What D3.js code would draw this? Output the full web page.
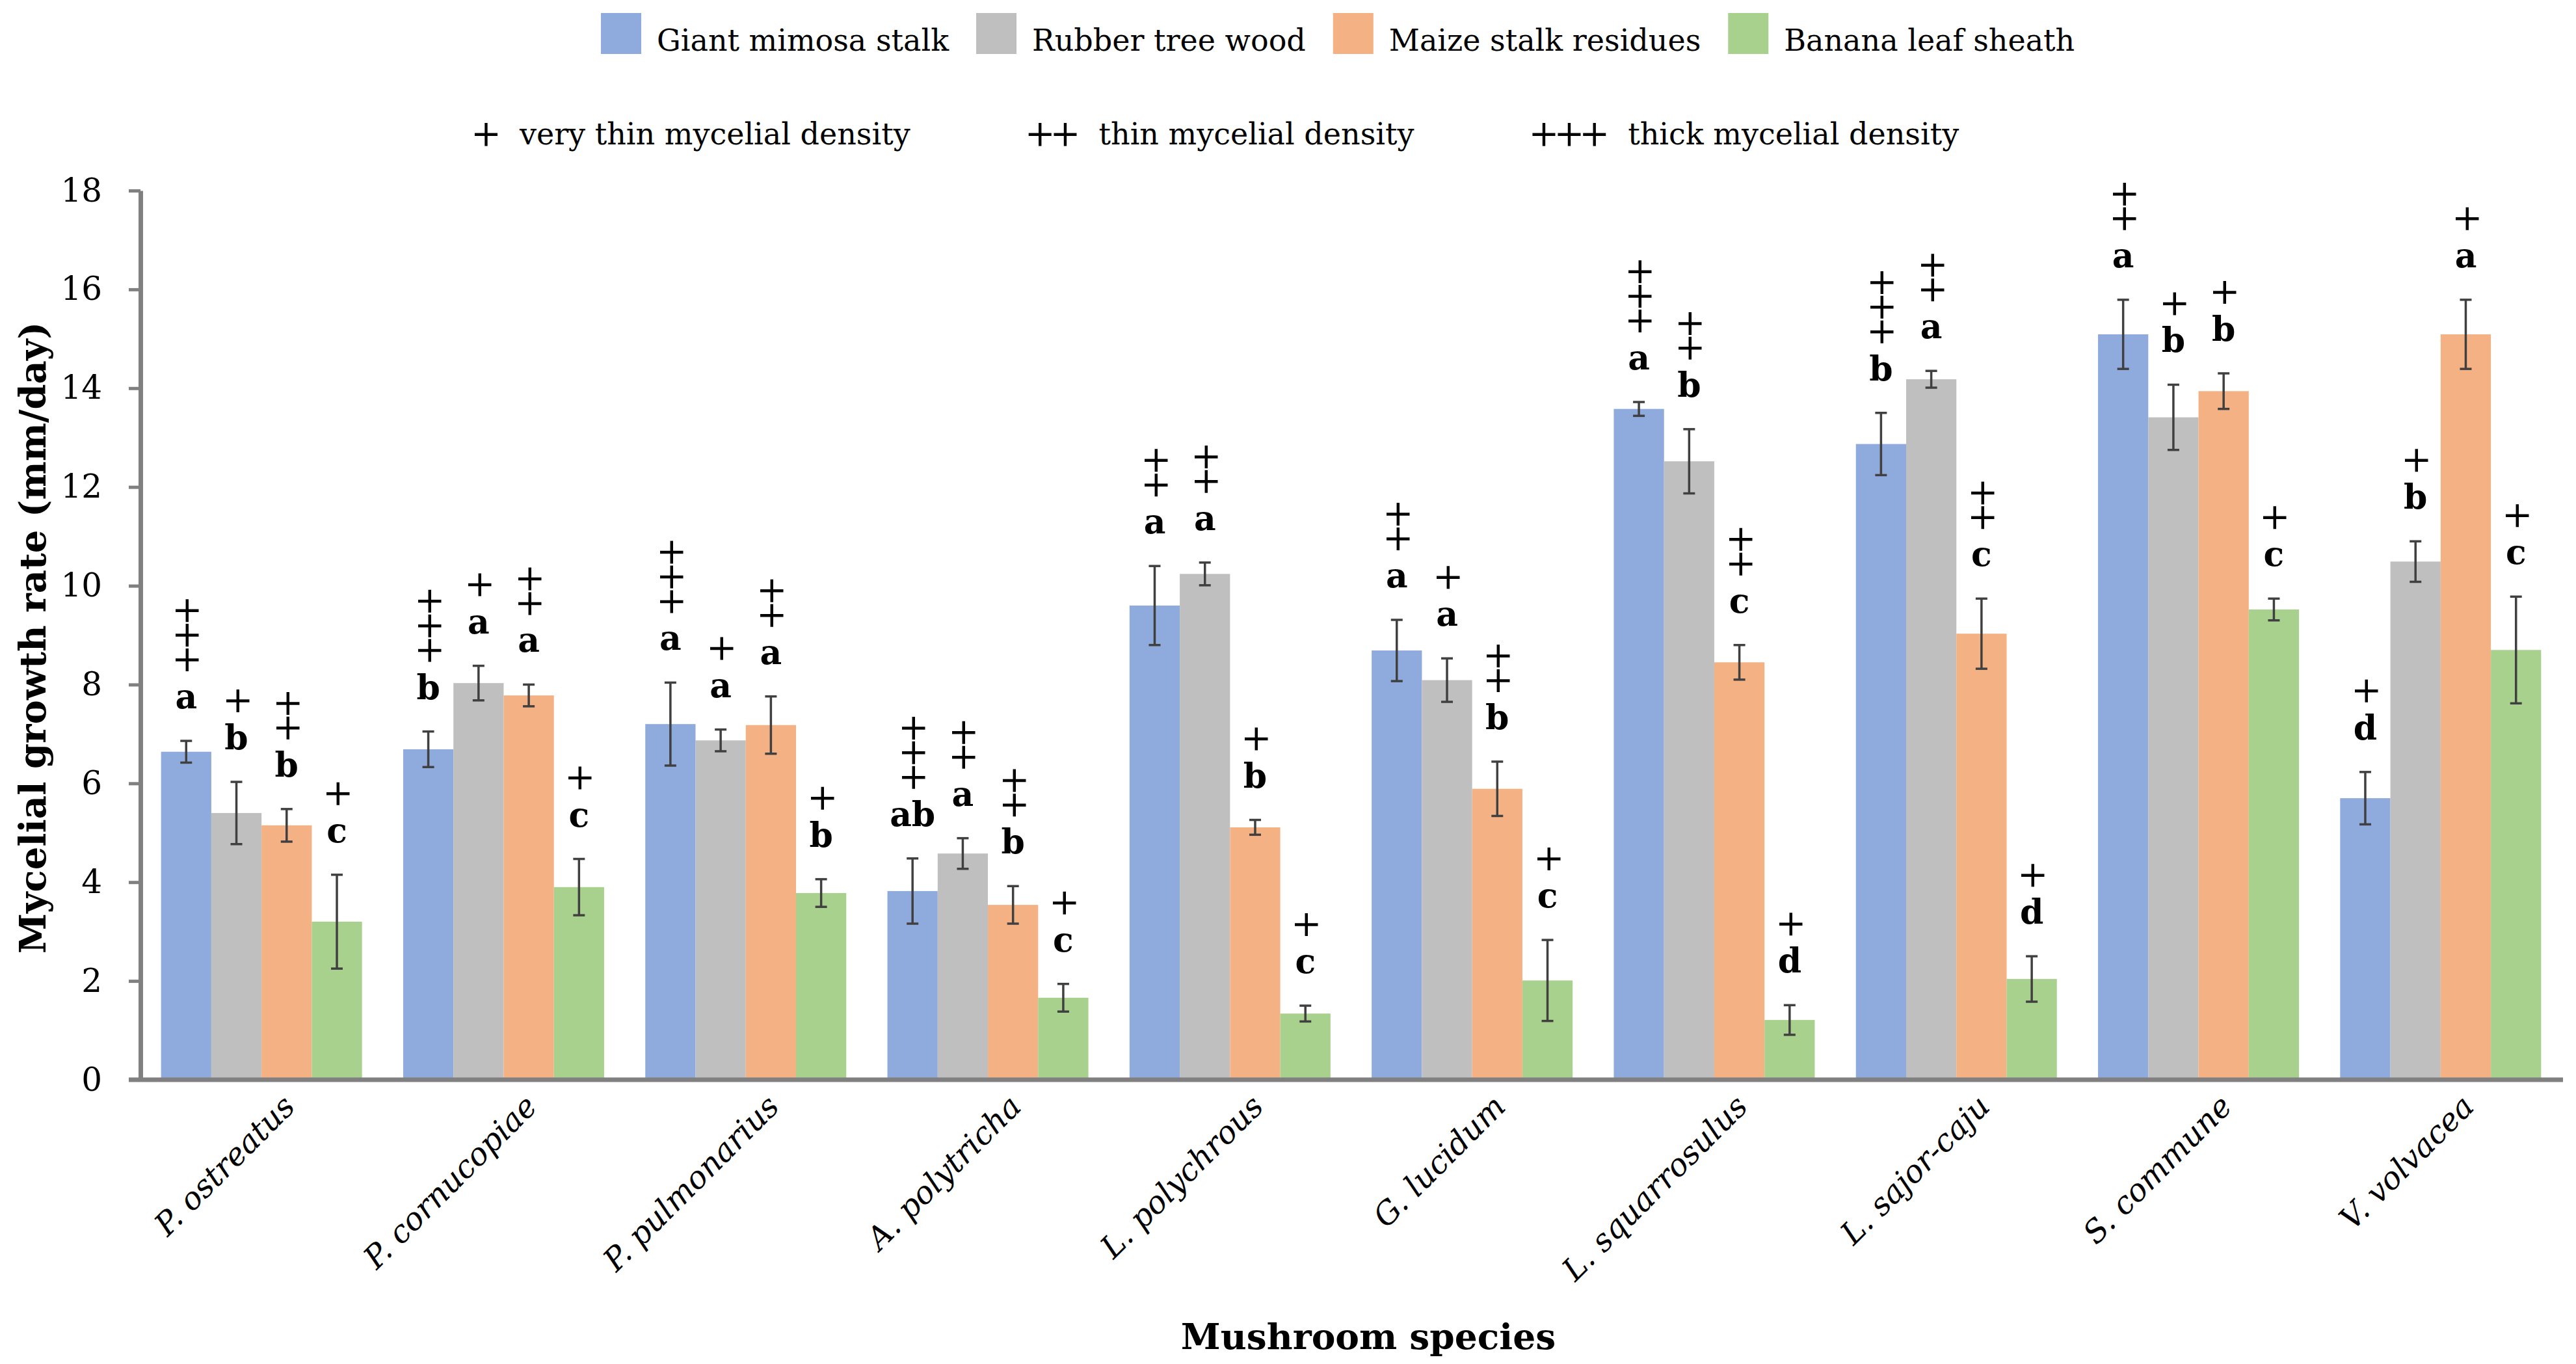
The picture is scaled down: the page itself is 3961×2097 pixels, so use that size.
<!DOCTYPE html>
<html>
<head>
<meta charset="utf-8">
<script src="https://cdn.jsdelivr.net/npm/d3@7"></script>
<style>
  body { margin: 0; background: #ffffff; }
  text { font-family: "DejaVu Serif", serif; fill: #000; }
</style>
</head>
<body>
<div id="chart"></div>
<script>
// mushroom species (x categories)
var species = ["P. ostreatus", "P. cornucopiae", "P. pulmonarius", "A. polytricha", "L. polychrous",
               "G. lucidum", "L. squarrosulus", "L. sajor-caju", "S. commune", "V. volvacea"];
var substrates = ["Giant mimosa stalk", "Rubber tree wood", "Maize stalk residues", "Banana leaf sheath"];

// growth rate (mm/day) and error
var giantMimosa    = [6.64, 6.69, 7.20, 3.82, 9.60, 8.69, 13.58, 12.87, 15.09, 5.70];
var giantMimosaErr = [0.22, 0.36, 0.84, 0.66, 0.80, 0.62, 0.14, 0.63, 0.70, 0.53];
var rubberTree     = [5.40, 8.03, 6.87, 4.58, 10.24, 8.09, 12.52, 14.18, 13.41, 10.49];
var rubberTreeErr  = [0.63, 0.35, 0.22, 0.31, 0.23, 0.44, 0.65, 0.17, 0.66, 0.41];
var maizeStalk     = [5.15, 7.78, 7.18, 3.54, 5.11, 5.89, 8.45, 9.03, 13.94, 15.09];
var maizeStalkErr  = [0.33, 0.22, 0.58, 0.38, 0.15, 0.55, 0.35, 0.71, 0.36, 0.70];
var bananaLeaf     = [3.20, 3.90, 3.78, 1.66, 1.34, 2.01, 1.21, 2.04, 9.52, 8.70];
var bananaLeafErr  = [0.95, 0.57, 0.28, 0.28, 0.16, 0.82, 0.30, 0.46, 0.22, 1.08];

// significance letters
var giantMimosaLetters = ["a", "b", "a", "ab", "a", "a", "a", "b", "a", "d"];
var rubberTreeLetters  = ["b", "a", "a", "a", "a", "a", "b", "a", "b", "b"];
var maizeStalkLetters  = ["b", "a", "a", "b", "b", "b", "c", "c", "b", "a"];
var bananaLeafLetters  = ["c", "c", "b", "c", "c", "c", "d", "d", "c", "c"];

// mycelial density (number of +)
var giantMimosaPlus = [3, 3, 3, 3, 2, 2, 3, 3, 2, 1];
var rubberTreePlus  = [1, 1, 1, 2, 2, 1, 2, 2, 1, 1];
var maizeStalkPlus  = [2, 2, 2, 2, 1, 2, 2, 2, 1, 1];
var bananaLeafPlus  = [1, 1, 1, 1, 1, 1, 1, 1, 1, 1];

var yTicks = [0, 2, 4, 6, 8, 10, 12, 14, 16, 18];
var densityMarks = ["+", "++", "+++"];
var densityLabels = ["very thin mycelial density", "thin mycelial density", "thick mycelial density"];

var colors = ["#8faadc", "#bfbfbf", "#f4b183", "#a9d18e"];

var values = [giantMimosa, rubberTree, maizeStalk, bananaLeaf];
var errors = [giantMimosaErr, rubberTreeErr, maizeStalkErr, bananaLeafErr];
var letters = [giantMimosaLetters, rubberTreeLetters, maizeStalkLetters, bananaLeafLetters];
var pluses = [giantMimosaPlus, rubberTreePlus, maizeStalkPlus, bananaLeafPlus];

var data = [];
species.forEach(function (sp, i) {
    substrates.forEach(function (sub, j) {
        data.push({species: sp, substrate: sub, value: values[j][i], err: errors[j][i],
                   letter: letters[j][i], plus: pluses[j][i], color: colors[j]});
    });
});

var width = 3961, height = 2097;
var plotLeft = 216, plotRight = 3939, plotTop = 293, plotBottom = 1660;

var svg = d3.select("#chart").append("svg")
    .attr("width", width)
    .attr("height", height)
    .style("background", "#fff");

var x0 = d3.scaleBand()
    .domain(species)
    .range([plotLeft, plotRight])
    .paddingInner(0.17)
    .paddingOuter(0.085);

var x1 = d3.scaleBand()
    .domain(substrates)
    .range([0, x0.bandwidth()]);

var y = d3.scaleLinear()
    .domain([0, 18])
    .range([plotBottom, plotTop]);

function barCenter(d) {
    return x0(d.species) + x1(d.substrate) + x1.bandwidth() / 2;
}

// bars
svg.append("g").selectAll("rect")
    .data(data)
    .enter()
    .append("rect")
    .attr("x", function (d) { return x0(d.species) + x1(d.substrate); })
    .attr("y", function (d) { return y(d.value); })
    .attr("width", x1.bandwidth())
    .attr("height", function (d) { return plotBottom - y(d.value); })
    .style("fill", function (d) { return d.color; });

// error bars
var eb = svg.append("g").selectAll("g")
    .data(data)
    .enter()
    .append("g")
    .attr("transform", function (d) { return "translate(" + barCenter(d) + ",0)"; })
    .style("stroke", "#404040")
    .style("stroke-width", 3.5);

eb.append("line")
    .attr("y1", function (d) { return y(d.value - d.err); })
    .attr("y2", function (d) { return y(d.value + d.err); });
eb.append("line")
    .attr("x1", -9).attr("x2", 9)
    .attr("y1", function (d) { return y(d.value + d.err); })
    .attr("y2", function (d) { return y(d.value + d.err); });
eb.append("line")
    .attr("x1", -9).attr("x2", 9)
    .attr("y1", function (d) { return y(d.value - d.err); })
    .attr("y2", function (d) { return y(d.value - d.err); });

// letters and density marks above each bar
var ann = svg.append("g").selectAll("g")
    .data(data)
    .enter()
    .append("g")
    .attr("transform", function (d) {
        return "translate(" + barCenter(d) + "," + (y(d.value + d.err) - 50) + ")";
    });

ann.append("text")
    .attr("text-anchor", "middle")
    .style("font-size", "52px")
    .style("font-weight", "bold")
    .text(function (d) { return d.letter; });

// the "+" marks are stacked vertically: one string turned upright
ann.append("text")
    .attr("transform", "translate(0,-74) rotate(-90)")
    .attr("x", -23)
    .attr("dy", "0.34em")
    .style("font-size", "56px")
    .style("letter-spacing", "-9px")
    .text(function (d) { return d3.range(d.plus).map(function () { return "+"; }).join(""); });

// y axis
var yAxis = svg.append("g")
    .attr("transform", "translate(" + plotLeft + ",0)")
    .call(d3.axisLeft(y).tickValues(yTicks).tickSize(18).tickSizeOuter(0).tickPadding(41));
yAxis.select(".domain").style("stroke", "#808080").style("stroke-width", 7);
yAxis.selectAll(".tick line").style("stroke", "#808080").style("stroke-width", 5);
yAxis.selectAll(".tick text")
    .style("font-size", "50px")
    .style("font-family", "DejaVu Serif, serif");

// x axis
var xAxis = svg.append("g")
    .attr("transform", "translate(0," + plotBottom + ")")
    .call(d3.axisBottom(x0).tickSize(0).tickSizeOuter(0));
xAxis.select(".domain").remove();
xAxis.append("line")
    .attr("x1", plotLeft - 18).attr("x2", plotRight + 2)
    .style("stroke", "#808080")
    .style("stroke-width", 7);
xAxis.selectAll(".tick text")
    .attr("x", 0).attr("y", 0).attr("dy", null)
    .attr("text-anchor", "end")
    .attr("transform", "translate(54,44) rotate(-45)")
    .style("font-size", "48px")
    .style("font-style", "italic")
    .style("font-family", "DejaVu Serif, serif");

// axis titles
svg.append("text")
    .attr("transform", "translate(50," + ((plotTop + plotBottom) / 2 + 4) + ") rotate(-90)")
    .attr("text-anchor", "middle")
    .attr("dominant-baseline", "central")
    .style("font-size", "56px")
    .style("font-weight", "bold")
    .text("Mycelial growth rate (mm/day)");

svg.append("text")
    .attr("x", 2104)
    .attr("y", 2074)
    .attr("text-anchor", "middle")
    .style("font-size", "55px")
    .style("font-weight", "bold")
    .text("Mushroom species");

// legend: substrates
var lx = 924;
substrates.forEach(function (sub, j) {
    svg.append("rect")
        .attr("x", lx).attr("y", 20)
        .attr("width", 62).attr("height", 63)
        .style("fill", colors[j]);
    var t = svg.append("text")
        .attr("x", lx + 86).attr("y", 78)
        .style("font-size", "46px")
        .text(sub);
    lx = lx + 86 + t.node().getComputedTextLength() + 42;
});

// legend: density key
var dx = 724;
densityMarks.forEach(function (m, k) {
    var mt = svg.append("text")
        .attr("x", dx).attr("y", 224)
        .style("font-size", "56px")
        .style("letter-spacing", "-8px")
        .text(m);
    var tx = dx + mt.node().getComputedTextLength() + 36;
    var lt = svg.append("text")
        .attr("x", tx).attr("y", 222)
        .style("font-size", "46px")
        .text(densityLabels[k]);
    dx = tx + lt.node().getComputedTextLength() + 176;
});
</script>
</body>
</html>
